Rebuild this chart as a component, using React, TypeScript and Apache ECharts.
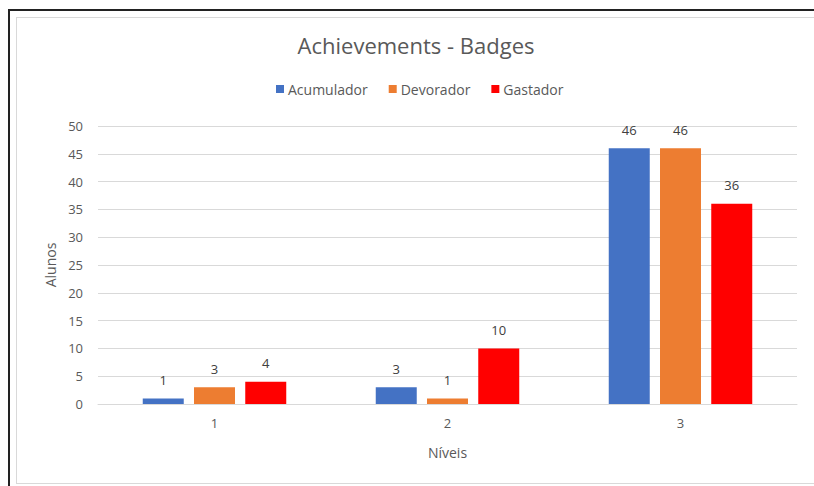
import React, { useEffect, useRef } from "react";
import * as echarts from "echarts";

const categories = ["1", "2", "3"];
const acumulador = [1, 3, 46];
const devorador = [3, 1, 46];
const gastador = [4, 10, 36];
const yTicks = { min: 0, max: 50, interval: 5 };

const FONT = "'Open Sans', 'Noto Sans', sans-serif";

export default function App() {
  const ref = useRef<HTMLDivElement>(null);
  useEffect(() => {
    if (!ref.current) return;
    const chart = echarts.init(ref.current, null, { renderer: "svg" });
    const label = {
      show: true,
      position: "top" as const,
      distance: 12,
      color: "#404040",
      fontSize: 13,
      fontFamily: FONT,
    };
    chart.setOption({
      animation: false,
      textStyle: { fontFamily: FONT },
      title: {
        text: "Achievements - Badges",
        left: 416,
        textAlign: "center",
        top: 34,
        padding: 0,
        textStyle: { fontSize: 22, fontWeight: "normal", color: "#595959", fontFamily: FONT },
      },
      legend: {
        left: 276,
        top: 82,
        padding: 0,
        itemWidth: 8,
        itemHeight: 8,
        itemGap: 21,
        icon: "rect",
        textStyle: { fontSize: 14, color: "#595959", fontFamily: FONT, padding: [0, 0, 0, -1] },
        data: ["Acumulador", "Devorador", "Gastador"],
      },
      grid: { left: 98, right: 17, top: 126, bottom: 82, containLabel: false },
      xAxis: {
        type: "category",
        data: categories,
        name: "Níveis",
        nameLocation: "middle",
        nameGap: 41,
        nameTextStyle: { fontSize: 14, color: "#595959", fontFamily: FONT },
        axisLine: { lineStyle: { color: "#d9d9d9", width: 1 } },
        axisTick: { show: false },
        axisLabel: { color: "#595959", fontSize: 13, margin: 12, fontFamily: FONT },
      },
      yAxis: {
        type: "value",
        min: yTicks.min,
        max: yTicks.max,
        interval: yTicks.interval,
        name: "Alunos",
        nameLocation: "middle",
        nameGap: 38,
        nameTextStyle: { fontSize: 14, color: "#595959", fontFamily: FONT },
        axisLine: { show: false },
        axisTick: { show: false },
        axisLabel: { color: "#595959", fontSize: 13, margin: 15, fontFamily: FONT },
        splitLine: { lineStyle: { color: "#d9d9d9", width: 1 } },
      },
      series: [
        { name: "Acumulador", type: "bar", data: acumulador, barWidth: 41, barGap: "25%", itemStyle: { color: "#4472C4" }, label },
        { name: "Devorador", type: "bar", data: devorador, barWidth: 41, barGap: "25%", itemStyle: { color: "#ED7D31" }, label },
        { name: "Gastador", type: "bar", data: gastador, barWidth: 41, barGap: "25%", itemStyle: { color: "#FF0000" }, label },
      ],
    });
    return () => chart.dispose();
  }, []);

  return (
    <div style={{ position: "fixed", left: 0, top: 0, width: 814, height: 486, overflow: "hidden", background: "#fff" }}>
      <div
        style={{
          position: "absolute",
          left: 8,
          top: 9,
          width: 900,
          height: 600,
          borderLeft: "2px solid #222",
          borderTop: "2px solid #222",
        }}
      />
      <div
        style={{
          position: "absolute",
          left: 16,
          top: 17,
          width: 900,
          height: 465,
          border: "1px solid #d9d9d9",
        }}
      />
      <div ref={ref} style={{ position: "absolute", left: 0, top: 0, width: 814, height: 486 }} />
    </div>
  );
}
